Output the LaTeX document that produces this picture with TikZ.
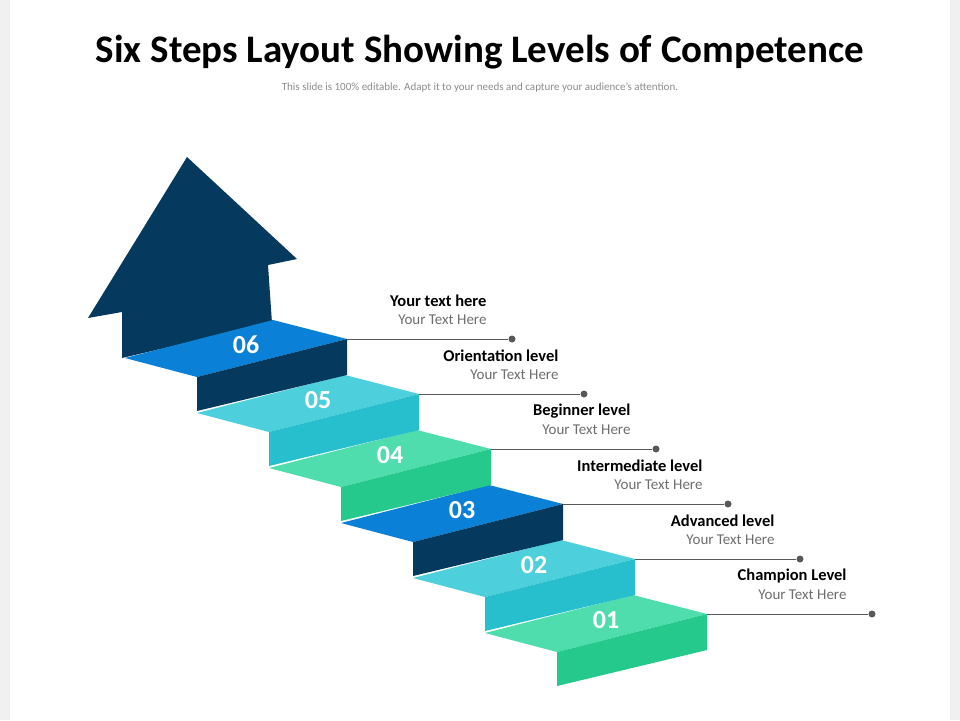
\documentclass[tikz,border=0pt]{standalone}
\usepackage{fontspec}
\setmainfont{Carlito}
\definecolor{navy}{HTML}{053A5E}
\definecolor{blueA}{HTML}{0A80D6}
\definecolor{cyanA}{HTML}{4DD0DB}
\definecolor{cyanB}{HTML}{27BECD}
\definecolor{greenA}{HTML}{4FDDAE}
\definecolor{greenB}{HTML}{25C98B}
\definecolor{textgrey}{HTML}{6E6E6E}
\tikzset{
	stepnum/.style={text=white,font=\fontsize{26}{26}\selectfont\bfseries},
	leveltitle/.style={anchor=east,font=\fontsize{16.5}{16.5}\selectfont\bfseries},
	levelsub/.style={anchor=east,text=textgrey,font=\fontsize{15}{15}\selectfont},
	enddot/.style={circle,fill=textgrey!80!black,inner sep=0pt,minimum size=7pt},
	leader/.style={draw=textgrey!80!black,line width=1pt}
}
\begin{document}
\begin{tikzpicture}[x=1pt,y=-1pt]

	% Page
	\fill[black!6] (0,0) rectangle (960,720);
	\fill[white] (10,0) rectangle (950,720);

	% Heading
	\node (title) at (480,52) {\fontsize{39}{39}\selectfont\bfseries Six Steps Layout Showing Levels of Competence};
	\node (subtitle) at (480,88) [text=black!45] {\fontsize{11}{11}\selectfont This slide is 100\% editable. Adapt it to your needs and capture your audience's attention.};

	% Arrow
	\fill[navy] (122,358) -- (122,312) -- (88,318) -- (187,157) -- (297,259) -- (268,265) -- (272,323) -- cycle;

	% Steps
	\foreach \k/\top/\rise/\lvl in {1/greenA/greenB/Champion Level,2/cyanA/cyanB/Advanced level,3/blueA/navy/Intermediate level,4/greenA/greenB/Beginner level,5/cyanA/cyanB/Orientation level,6/blueA/navy/Your text here}{
		\begin{scope}[shift={({-72*(\k-1)},{-55*(\k-1)})}]
			\fill[\top] (485,633) -- (633,595) -- (707,614) -- (557,652) -- cycle;
			\fill[\rise] (557,652) -- (707,614) -- (707,650) -- (557,686) -- cycle;
			\node (num\k) at (606,620) [stepnum] {0\k};
			\coordinate (corner\k) at (707,614);
			\node (dot\k) at (872,614) [enddot] {};
			\draw[leader] (corner\k) -- (dot\k);
			\node (title\k) at (850,576) [leveltitle] {\lvl};
			\node (sub\k) at (850,595) [levelsub] {Your Text Here};
		\end{scope}
	}

\end{tikzpicture}
\end{document}
